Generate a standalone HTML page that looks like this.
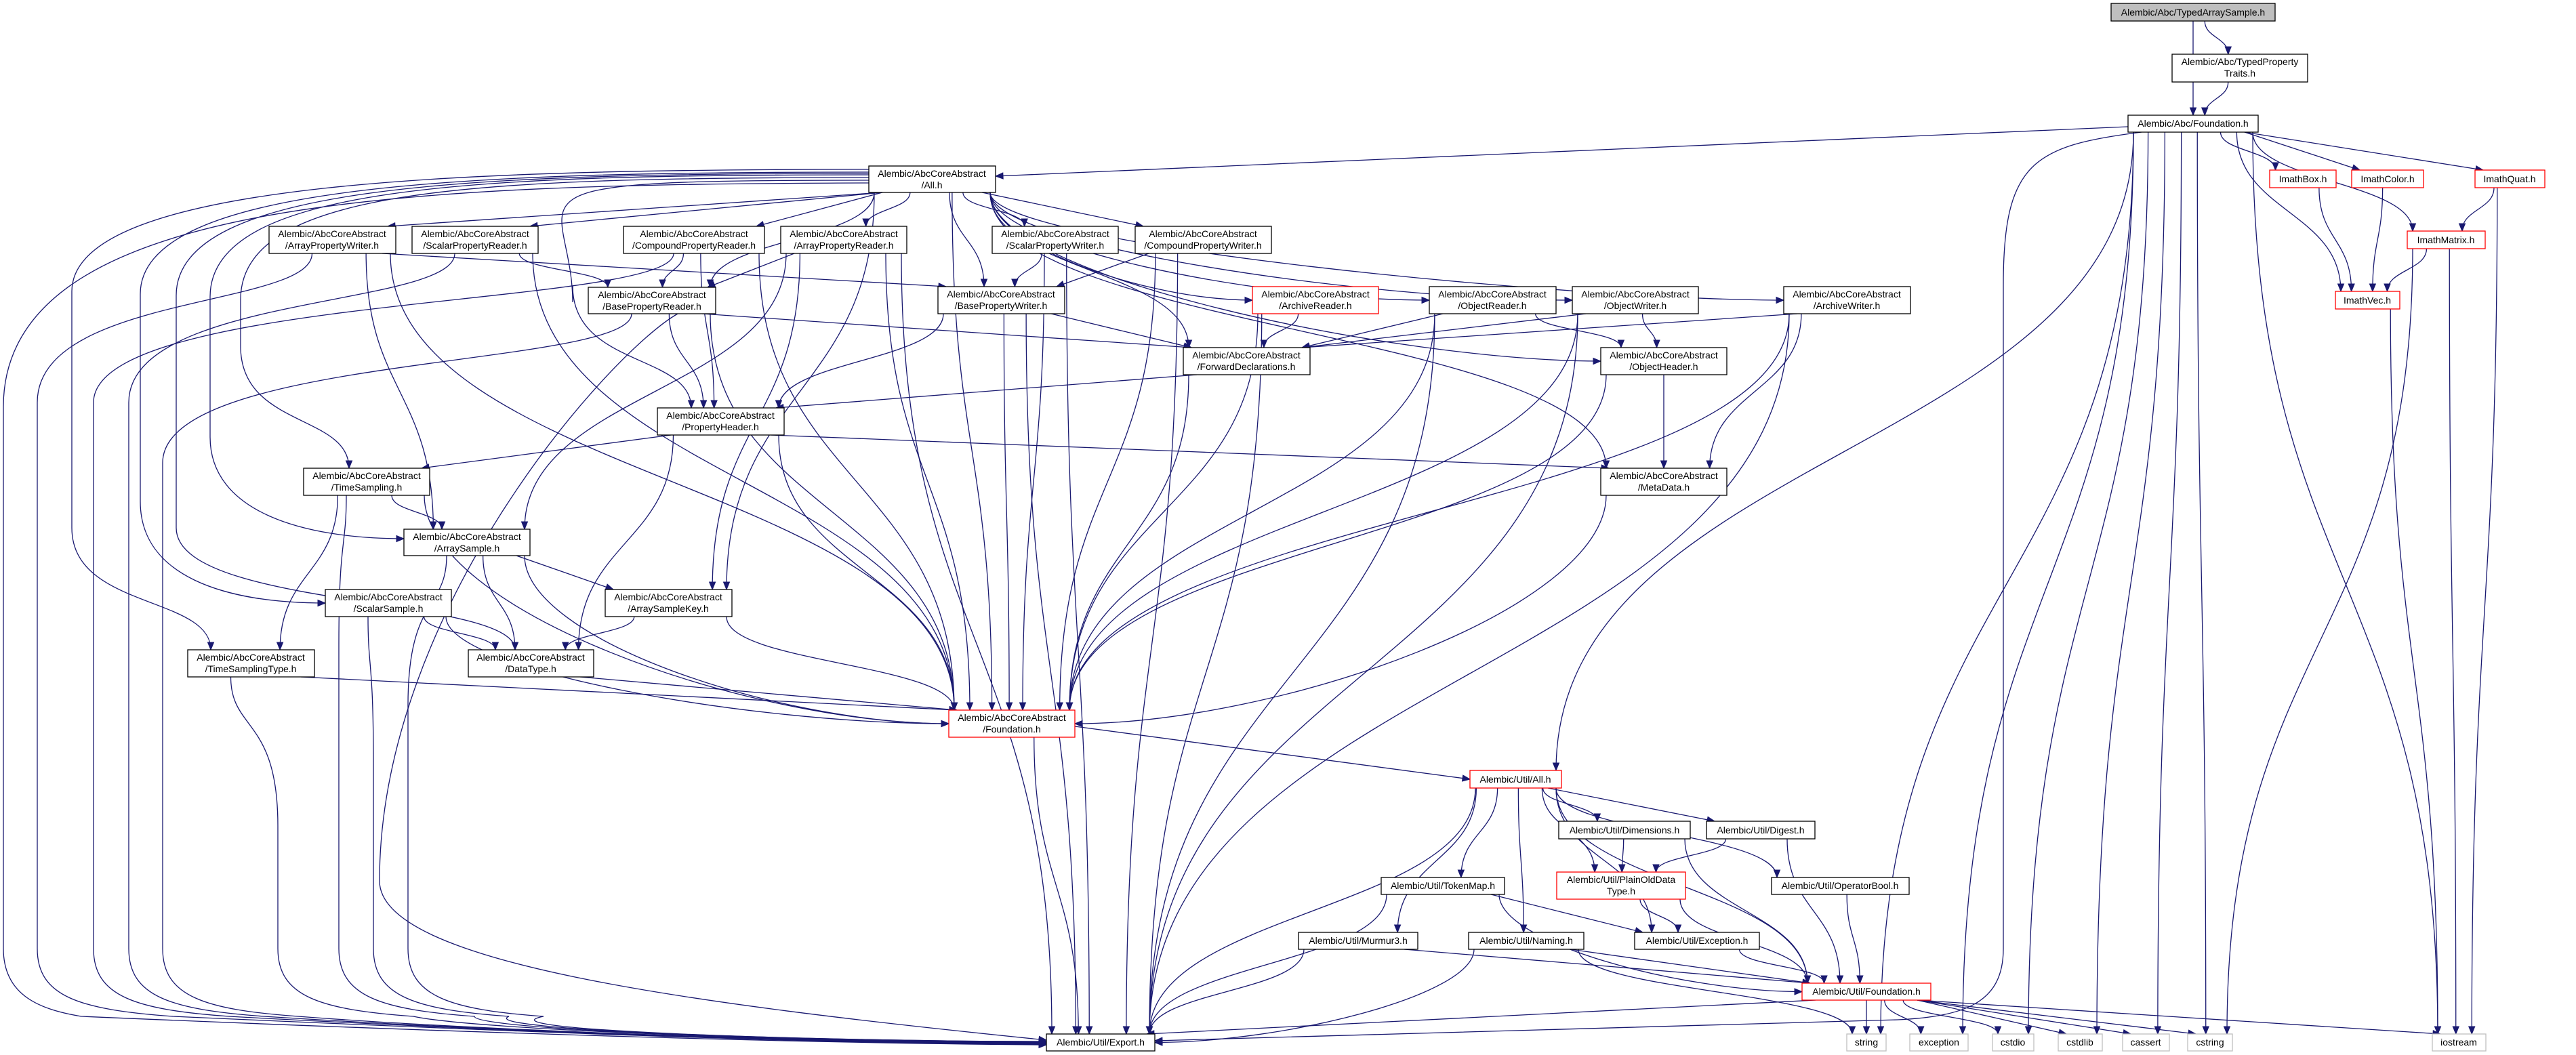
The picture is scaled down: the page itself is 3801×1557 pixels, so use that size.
<!DOCTYPE html>
<html><head><meta charset="utf-8"><style>
html,body{margin:0;padding:0;background:#fff;}
svg{display:block;}
text{font-family:"Liberation Sans",Arial,sans-serif;font-size:14px;fill:#000;text-anchor:middle;}
</style></head><body>
<svg id="s" width="3801" height="1557" viewBox="0 0 3801 1557" xmlns="http://www.w3.org/2000/svg">
<g id="edges" fill="none" stroke="#191970" stroke-width="1.3"></g>
<g id="heads" fill="#191970" stroke="#191970"></g>
<g id="nodes" stroke-width="1.3">
<rect x="3115" y="5" width="242" height="26" fill="#bfbfbf" stroke="#000"/><text x="3236" y="23">Alembic/Abc/TypedArraySample.h</text>
<rect x="3205" y="80" width="200" height="41" fill="#fff" stroke="#000"/><text x="3305" y="96">Alembic/Abc/TypedProperty</text><text x="3305" y="113">Traits.h</text>
<rect x="3140" y="170" width="192" height="25" fill="#fff" stroke="#000"/><text x="3236" y="187">Alembic/Abc/Foundation.h</text>
<rect x="3349" y="251" width="98" height="26" fill="#fff" stroke="#f00"/><text x="3398" y="269">ImathBox.h</text>
<rect x="3470" y="251" width="106" height="26" fill="#fff" stroke="#f00"/><text x="3523" y="269">ImathColor.h</text>
<rect x="3652" y="251" width="103" height="26" fill="#fff" stroke="#f00"/><text x="3703" y="269">ImathQuat.h</text>
<rect x="3552" y="341" width="115" height="26" fill="#fff" stroke="#f00"/><text x="3609" y="359">ImathMatrix.h</text>
<rect x="3446" y="430" width="95" height="26" fill="#fff" stroke="#f00"/><text x="3493" y="448">ImathVec.h</text>

<rect x="1282" y="245" width="187" height="39" fill="#fff" stroke="#000"/><text x="1375" y="261">Alembic/AbcCoreAbstract</text><text x="1375" y="278">/All.h</text>
<rect x="397" y="334" width="187" height="40" fill="#fff" stroke="#000"/><text x="490" y="350">Alembic/AbcCoreAbstract</text><text x="490" y="367">/ArrayPropertyWriter.h</text>
<rect x="608" y="334" width="186" height="40" fill="#fff" stroke="#000"/><text x="701" y="350">Alembic/AbcCoreAbstract</text><text x="701" y="367">/ScalarPropertyReader.h</text>
<rect x="920" y="334" width="208" height="40" fill="#fff" stroke="#000"/><text x="1024" y="350">Alembic/AbcCoreAbstract</text><text x="1024" y="367">/CompoundPropertyReader.h</text>
<rect x="1152" y="334" width="186" height="40" fill="#fff" stroke="#000"/><text x="1245" y="350">Alembic/AbcCoreAbstract</text><text x="1245" y="367">/ArrayPropertyReader.h</text>
<rect x="1464" y="334" width="186" height="40" fill="#fff" stroke="#000"/><text x="1557" y="350">Alembic/AbcCoreAbstract</text><text x="1557" y="367">/ScalarPropertyWriter.h</text>
<rect x="1675" y="334" width="201" height="40" fill="#fff" stroke="#000"/><text x="1775" y="350">Alembic/AbcCoreAbstract</text><text x="1775" y="367">/CompoundPropertyWriter.h</text>
<rect x="868" y="424" width="188" height="39" fill="#fff" stroke="#000"/><text x="962" y="440">Alembic/AbcCoreAbstract</text><text x="962" y="457">/BasePropertyReader.h</text>
<rect x="1384" y="423" width="187" height="40" fill="#fff" stroke="#000"/><text x="1477" y="439">Alembic/AbcCoreAbstract</text><text x="1477" y="456">/BasePropertyWriter.h</text>
<rect x="1848" y="423" width="186" height="40" fill="#fff" stroke="#f00"/><text x="1941" y="439">Alembic/AbcCoreAbstract</text><text x="1941" y="456">/ArchiveReader.h</text>
<rect x="2109" y="423" width="187" height="40" fill="#fff" stroke="#000"/><text x="2202" y="439">Alembic/AbcCoreAbstract</text><text x="2202" y="456">/ObjectReader.h</text>
<rect x="2320" y="423" width="186" height="40" fill="#fff" stroke="#000"/><text x="2413" y="439">Alembic/AbcCoreAbstract</text><text x="2413" y="456">/ObjectWriter.h</text>
<rect x="2632" y="423" width="187" height="40" fill="#fff" stroke="#000"/><text x="2725" y="439">Alembic/AbcCoreAbstract</text><text x="2725" y="456">/ArchiveWriter.h</text>
<rect x="1746" y="513" width="187" height="40" fill="#fff" stroke="#000"/><text x="1839" y="529">Alembic/AbcCoreAbstract</text><text x="1839" y="546">/ForwardDeclarations.h</text>
<rect x="2362" y="513" width="186" height="40" fill="#fff" stroke="#000"/><text x="2455" y="529">Alembic/AbcCoreAbstract</text><text x="2455" y="546">/ObjectHeader.h</text>
<rect x="970" y="602" width="187" height="40" fill="#fff" stroke="#000"/><text x="1063" y="618">Alembic/AbcCoreAbstract</text><text x="1063" y="635">/PropertyHeader.h</text>
<rect x="2362" y="691" width="186" height="40" fill="#fff" stroke="#000"/><text x="2455" y="707">Alembic/AbcCoreAbstract</text><text x="2455" y="724">/MetaData.h</text>
<rect x="448" y="691" width="186" height="40" fill="#fff" stroke="#000"/><text x="541" y="707">Alembic/AbcCoreAbstract</text><text x="541" y="724">/TimeSampling.h</text>
<rect x="596" y="781" width="186" height="39" fill="#fff" stroke="#000"/><text x="689" y="797">Alembic/AbcCoreAbstract</text><text x="689" y="814">/ArraySample.h</text>
<rect x="480" y="870" width="186" height="40" fill="#fff" stroke="#000"/><text x="573" y="886">Alembic/AbcCoreAbstract</text><text x="573" y="903">/ScalarSample.h</text>
<rect x="893" y="870" width="187" height="40" fill="#fff" stroke="#000"/><text x="986" y="886">Alembic/AbcCoreAbstract</text><text x="986" y="903">/ArraySampleKey.h</text>
<rect x="277" y="959" width="187" height="40" fill="#fff" stroke="#000"/><text x="370" y="975">Alembic/AbcCoreAbstract</text><text x="370" y="992">/TimeSamplingType.h</text>
<rect x="691" y="959" width="185" height="40" fill="#fff" stroke="#000"/><text x="783" y="975">Alembic/AbcCoreAbstract</text><text x="783" y="992">/DataType.h</text>
<rect x="1400" y="1048" width="186" height="40" fill="#fff" stroke="#f00"/><text x="1493" y="1064">Alembic/AbcCoreAbstract</text><text x="1493" y="1081">/Foundation.h</text>

<rect x="2169" y="1137" width="135" height="26" fill="#fff" stroke="#f00"/><text x="2236" y="1155">Alembic/Util/All.h</text>
<rect x="2300" y="1212" width="194" height="26" fill="#fff" stroke="#000"/><text x="2397" y="1230">Alembic/Util/Dimensions.h</text>
<rect x="2518" y="1212" width="160" height="26" fill="#fff" stroke="#000"/><text x="2598" y="1230">Alembic/Util/Digest.h</text>
<rect x="2038" y="1295" width="182" height="25" fill="#fff" stroke="#000"/><text x="2129" y="1312">Alembic/Util/TokenMap.h</text>
<rect x="2297" y="1287" width="190" height="40" fill="#fff" stroke="#f00"/><text x="2392" y="1303">Alembic/Util/PlainOldData</text><text x="2392" y="1320">Type.h</text>
<rect x="2614" y="1295" width="203" height="25" fill="#fff" stroke="#000"/><text x="2715" y="1312">Alembic/Util/OperatorBool.h</text>
<rect x="1916" y="1376" width="176" height="25" fill="#fff" stroke="#000"/><text x="2004" y="1393">Alembic/Util/Murmur3.h</text>
<rect x="2167" y="1376" width="170" height="25" fill="#fff" stroke="#000"/><text x="2252" y="1393">Alembic/Util/Naming.h</text>
<rect x="2412" y="1376" width="184" height="25" fill="#fff" stroke="#000"/><text x="2504" y="1393">Alembic/Util/Exception.h</text>
<rect x="2659" y="1451" width="190" height="25" fill="#fff" stroke="#f00"/><text x="2754" y="1468">Alembic/Util/Foundation.h</text>
<rect x="1544" y="1526" width="160" height="25" fill="#fff" stroke="#000"/><text x="1624" y="1543">Alembic/Util/Export.h</text>
<rect x="2725" y="1526" width="58" height="25" fill="#fff" stroke="#bfbfbf"/><text x="2754" y="1543">string</text>
<rect x="2818" y="1526" width="86" height="25" fill="#fff" stroke="#bfbfbf"/><text x="2861" y="1543">exception</text>
<rect x="2940" y="1526" width="61" height="25" fill="#fff" stroke="#bfbfbf"/><text x="2970" y="1543">cstdio</text>
<rect x="3037" y="1526" width="65" height="25" fill="#fff" stroke="#bfbfbf"/><text x="3069" y="1543">cstdlib</text>
<rect x="3132" y="1526" width="69" height="25" fill="#fff" stroke="#bfbfbf"/><text x="3166" y="1543">cassert</text>
<rect x="3228" y="1526" width="66" height="25" fill="#fff" stroke="#bfbfbf"/><text x="3261" y="1543">cstring</text>
<rect x="3589" y="1526" width="79" height="25" fill="#fff" stroke="#bfbfbf"/><text x="3628" y="1543">iostream</text>
</g>
</svg>
<script>
var N={TAS:[3115,5,3357,31],TPT:[3205,80,3405,121],AF:[3140,170,3332,195],IBox:[3349,251,3447,277],ICol:[3470,251,3576,277],IQuat:[3652,251,3755,277],IMat:[3552,341,3667,367],IVec:[3446,430,3541,456],
CAll:[1282,245,1469,284],APW:[397,334,584,374],SPR:[608,334,794,374],CPR:[920,334,1128,374],APR:[1152,334,1338,374],SPW:[1464,334,1650,374],CPW:[1675,334,1876,374],
BPR:[868,424,1056,463],BPW:[1384,423,1571,463],AR:[1848,423,2034,463],OR:[2109,423,2296,463],OW:[2320,423,2506,463],AW:[2632,423,2819,463],FD:[1746,513,1933,553],OH:[2362,513,2548,553],
PH:[970,602,1157,642],MD:[2362,691,2548,731],TS:[448,691,634,731],AS:[596,781,782,820],SS:[480,870,666,910],ASK:[893,870,1080,910],TST:[277,959,464,999],DT:[691,959,876,999],CF:[1400,1048,1586,1088],
UAll:[2169,1137,2304,1163],UDim:[2300,1212,2494,1238],UDig:[2518,1212,2678,1238],UTok:[2038,1295,2220,1320],UPOD:[2297,1287,2487,1327],UOB:[2614,1295,2817,1320],UMur:[1916,1376,2092,1401],UNam:[2167,1376,2337,1401],UExc:[2412,1376,2596,1401],UF:[2659,1451,2849,1476],UExp:[1544,1526,1704,1551],
s1:[2725,1526,2783,1551],s2:[2818,1526,2904,1551],s3:[2940,1526,3001,1551],s4:[3037,1526,3102,1551],s5:[3132,1526,3201,1551],s6:[3228,1526,3294,1551],s7:[3589,1526,3668,1551]};
var E="TAS>TPT TAS>AF TPT>AF AF>CAll AF>UAll AF>s1 AF>s2 AF>s3 AF>s4 AF>s5 AF>s6 AF>IBox AF>ICol AF>IQuat AF>IMat AF>IVec AF>s7 IBox>IVec ICol>IVec IQuat>IMat IMat>IVec IMat>s6 IMat>s7 IVec>s7 IQuat>s7 "+
"CAll>APW CAll>SPR CAll>CPR CAll>APR CAll>SPW CAll>CPW CAll>BPR CAll>BPW CAll>AR CAll>OR CAll>OW CAll>AW CAll>FD CAll>OH CAll>MD CAll>ASK CAll>CF "+
"APW>BPW APW>AS APW>CF SPR>BPR SPR>CF CPR>BPR CPR>PH CPR>CF APR>BPR APR>AS APR>ASK APR>CF APR>UExp SPW>BPW SPW>CF SPW>UExp CPW>BPW CPW>CF CPW>UExp "+
"BPR>FD BPR>PH BPR>CF BPW>FD BPW>PH BPW>CF BPW>UExp AR>FD AR>CF AR>UExp OR>FD OR>OH OR>CF OR>UExp OW>FD OW>OH OW>CF OW>UExp AW>FD AW>MD AW>CF AW>UExp FD>PH FD>CF OH>MD OH>CF "+
"PH>TS PH>MD PH>DT PH>CF MD>CF TS>AS TS>TST TS>CF AS>ASK AS>DT AS>CF SS>DT SS>CF ASK>DT ASK>CF TST>CF DT>CF CF>UAll CF>UExp "+
"UAll>UDim UAll>UDig UAll>UTok UAll>UPOD UAll>UOB UAll>UMur UAll>UNam UAll>UExc UAll>UF UAll>UExp UDim>UPOD UDim>UF UDig>UPOD UDig>UF UTok>UExc UTok>UF UTok>UExp UPOD>UExc UPOD>UF UOB>UF UMur>UF UMur>UExp UNam>UF UNam>UExp UNam>s1 UExc>UF "+
"UF>UExp UF>s1 UF>s2 UF>s3 UF>s4 UF>s5 UF>s6 UF>s7";
var eg=document.getElementById('edges'),hg=document.getElementById('heads'),NS="http://www.w3.org/2000/svg";
function cl(v,a,b){return Math.max(a,Math.min(b,v));}
function head(ex,ey,cx,cy){var dx=ex-cx,dy=ey-cy,l=Math.hypot(dx,dy)||1;dx/=l;dy/=l;var L=11,W=4.5;
var bx=ex-dx*L,by=ey-dy*L;var p=document.createElementNS(NS,'polygon');
p.setAttribute('points',ex+','+ey+' '+(bx-dy*W)+','+(by+dx*W)+' '+(bx+dy*W)+','+(by-dx*W));hg.appendChild(p);}
function add(d,ex,ey,cx,cy){var p=document.createElementNS(NS,'path');p.setAttribute('d',d);eg.appendChild(p);head(ex,ey,cx,cy);}
E.split(' ').forEach(function(s){if(!s)return;var k=s.split('>'),a=N[k[0]],b=N[k[1]];
var acx=(a[0]+a[2])/2,bcx=(b[0]+b[2])/2;var d;
var sx=cl(acx+(bcx-acx)*0.25,a[0]+8,a[2]-8),sy=a[3];
var ex,ey,c1x,c1y,c2x,c2y;var vy=b[1]-sy;
if(k[0]=='AF'&&k[1]=='CAll'){add('M3140,187 L1469,260',1469,260,1600,254);return;}
if(k[0]=='CF'&&k[1]=='UAll'){add('M1586,1072 L2169,1150',2169,1150,2050,1134);return;}
if(vy>=80&&Math.abs(bcx-sx)>2.2*vy+150){
 if(bcx<sx){ex=b[2];}else{ex=b[0];} ey=(b[1]+b[3])/2;
 var h=Math.abs(ex-sx);c1x=sx;c1y=sy+Math.max(20,(ey-sy)*0.5);c2x=ex+(bcx<sx?1:-1)*Math.min(300,h*0.4);c2y=ey;
 d='M'+sx+','+sy+' C'+c1x+','+c1y+' '+c2x+','+c2y+' '+ex+','+ey;
}else if(vy<80&&Math.abs(bcx-sx)>200){
 ex=(bcx<acx)?b[2]-12:b[0]+12;ey=b[1];sx=(bcx<acx)?a[0]+20:a[2]-20;
 c1x=sx+(ex-sx)*0.3;c1y=sy+vy*0.3;c2x=ex-(ex-sx)*0.3;c2y=ey-vy*0.3;
 d='M'+sx+','+sy+' C'+c1x+','+c1y+' '+c2x+','+c2y+' '+ex+','+ey;
}else{ex=cl(bcx+(acx-bcx)*0.25,b[0]+8,b[2]-8);ey=b[1];var m=(ey-sy)*0.5;c1x=sx;c1y=sy+m;c2x=ex;c2y=ey-m;
 d='M'+sx+','+sy+' C'+c1x+','+c1y+' '+c2x+','+c2y+' '+ex+','+ey;}
add(d,ex,ey,c2x,c2y);});
function loopL(y0,vx,ex,ey,top){var d='M1282,'+y0+' C700,'+y0+' '+vx+','+(y0+15)+' '+vx+','+(y0+180);
 if(top){d+=' L'+vx+','+(ey-180)+' C'+vx+','+(ey-60)+' '+ex+','+(ey-80)+' '+ex+','+ey;add(d,ex,ey,ex,ey-60);}
 else{d+=' L'+vx+','+(ey-150)+' C'+vx+','+(ey-40)+' '+(ex-150)+','+ey+' '+ex+','+ey;add(d,ex,ey,ex-100,ey);}}
loopL(250,106,311,959,true);
loopL(254,207,480,890,false);
loopL(256,260,760,959,true);
loopL(258,310,596,795,false);
loopL(262,355,515,691,true);
loopL(266,845,1020,602,true);
function toExp(src,vx,ey){var a=N[src];var sx=(a[0]+a[2])/2-30,sy=a[3];
 var d='M'+sx+','+sy+' C'+sx+','+(sy+80)+' '+vx+','+(sy+60)+' '+vx+','+(sy+220)+' L'+vx+',1400 C'+vx+',1470 '+(vx+60)+',1490 '+(vx+200)+',1500 C700,1520 1200,'+ey+' 1544,'+ey;
 add(d,1544,ey,1450,ey);}
(function(){var d='M1282,270 C600,272 5,290 5,600 L5,1400 C5,1470 60,1490 120,1500 C700,1525 1200,1540 1544,1542';add(d,1544,1542,1450,1541);})();
toExp('APW',55,1541);toExp('CPR',138,1540);toExp('SPR',190,1540);toExp('BPR',240,1539);
toExp('TST',410,1538);toExp('TS',500,1538);toExp('SS',551,1537);toExp('AS',602,1537);
add('M3160,195 C3000,215 2956,240 2956,420 L2956,1400 C2956,1480 2900,1500 2800,1505 C2300,1520 1900,1530 1704,1536',1704,1536,1800,1533);
add('M1000,463 C900,520 560,900 560,1300 C560,1420 1000,1480 1544,1535',1544,1535,1450,1525);
</script>
</body></html>
